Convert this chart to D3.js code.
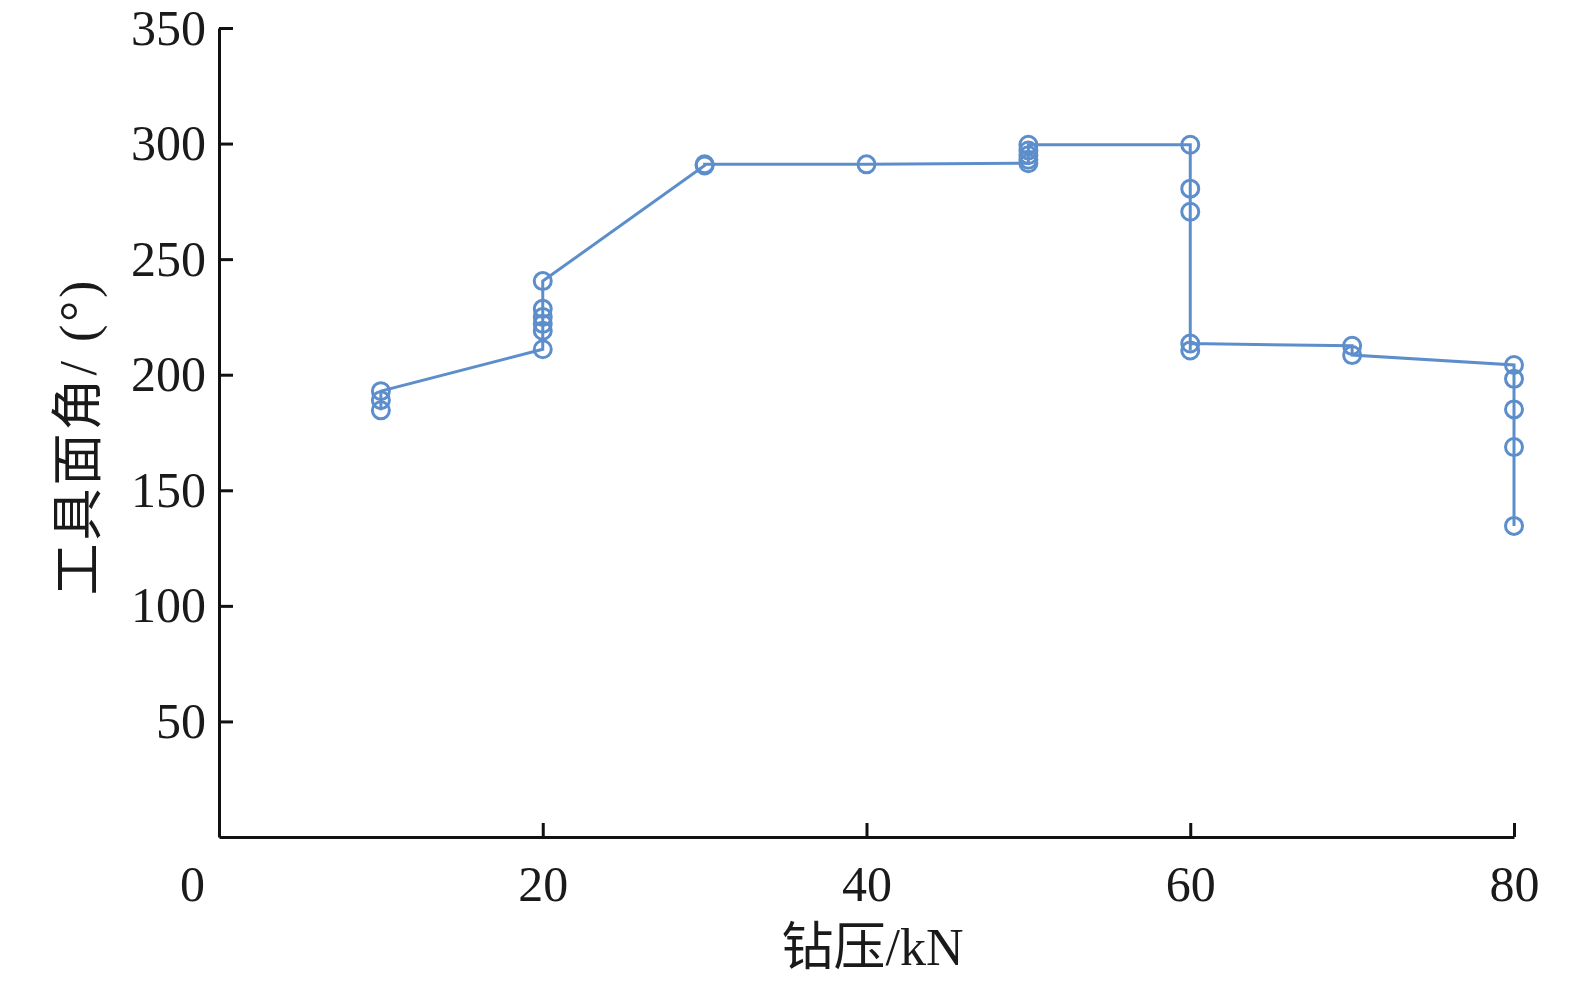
<!DOCTYPE html>
<html>
<head>
<meta charset="utf-8">
<script src="https://cdn.jsdelivr.net/npm/d3@7"></script>
<style>
  body { margin: 0; background: #fff; }
  text { font-family: "Liberation Serif", "Noto Sans CJK SC", serif; fill: #1a1a1a; }
</style>
</head>
<body>
<div id="chart"></div>
<script>
// data: points in drawing order
var pressure = [10, 10, 10,
                20, 20, 20, 20, 20, 20,
                30, 30,
                40,
                50, 50, 50, 50, 50,
                60, 60, 60, 60, 60,
                70, 70,
                80, 80, 80, 80, 80];
var angle = [184.6, 189, 192.9,
             211, 219, 222, 225, 228.5, 240.5,
             290.5, 291,
             291,
             291.5, 293, 295, 297, 299.5,
             299.5, 280.5, 270.5, 210.5, 213.5,
             212.5, 208.5,
             204.2, 198.2, 185, 168.7, 134.6];
var xTicks = [0, 20, 40, 60, 80];
var yTicks = [50, 100, 150, 200, 250, 300, 350];

var svgWidth = 1575;
var svgHeight = 984;
var margin = {top: 28, right: 61, bottom: 147, left: 219};
var chartWidth = svgWidth - margin.left - margin.right;
var chartHeight = svgHeight - margin.top - margin.bottom;

var svg = d3.select("#chart")
  .append("svg")
  .attr("width", svgWidth)
  .attr("height", svgHeight)
  .append("g")
  .attr("transform", `translate(${margin.left},${margin.top})`);

var xScale = d3.scaleLinear().domain([0, 80]).range([0, chartWidth]);
var yScale = d3.scaleLinear().domain([0, 350]).range([chartHeight, 0]);

var points = pressure.map(function(p, i) { return {x: p, y: angle[i]}; });

var blue = "#5d8ecc";

// axes (ticks point inward)
var xAxis = svg.append("g")
  .attr("transform", `translate(0,${chartHeight})`)
  .call(d3.axisBottom(xScale).tickValues(xTicks).tickSizeInner(-14).tickSizeOuter(0).tickPadding(28));
var yAxis = svg.append("g")
  .call(d3.axisLeft(yScale).tickValues(yTicks).tickSizeInner(-14).tickSizeOuter(0).tickPadding(13));

[xAxis, yAxis].forEach(function(ax) {
  ax.select(".domain").attr("stroke", "#111").attr("stroke-width", 3);
  ax.selectAll(".tick line").attr("stroke", "#111").attr("stroke-width", 3);
  ax.selectAll(".tick text").style("font-size", "50px").attr("fill", "#1a1a1a");
});
// the origin label sits left of the corner
xAxis.selectAll(".tick text").filter(function(d) { return d === 0; }).attr("x", -27);
xAxis.selectAll(".tick line").filter(function(d) { return d === 0; }).remove();

// line
svg.append("path")
  .datum(points)
  .attr("fill", "none")
  .attr("stroke", blue)
  .attr("stroke-width", 3)
  .attr("d", d3.line().x(function(d) { return xScale(d.x); }).y(function(d) { return yScale(d.y); }));

// markers
svg.selectAll("circle")
  .data(points)
  .enter()
  .append("circle")
  .attr("cx", function(d) { return xScale(d.x); })
  .attr("cy", function(d) { return yScale(d.y); })
  .attr("r", 8.5)
  .attr("fill", "none")
  .attr("stroke", blue)
  .attr("stroke-width", 3);

// axis titles
svg.append("text")
  .attr("x", xScale(40) + 6)
  .attr("y", chartHeight + 128)
  .attr("text-anchor", "middle")
  .style("font-size", "52px")
  .text("钻压/kN");

svg.append("text")
  .attr("transform", `translate(${78 - margin.left},${yScale(175) + 4}) rotate(-90)`)
  .attr("text-anchor", "middle")
  .attr("dominant-baseline", "central")
  .style("font-size", "52px")
  .style("letter-spacing", "3px")
  .text("工具面角/ (°)");
</script>
</body>
</html>
